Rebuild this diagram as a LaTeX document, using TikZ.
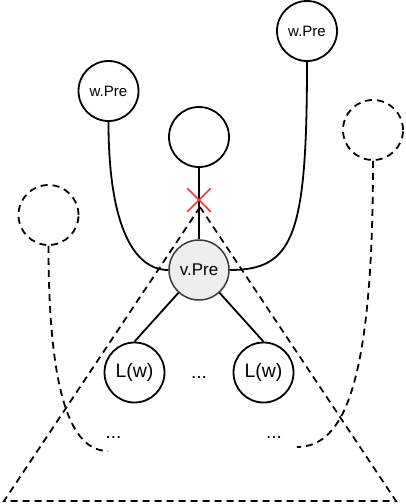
\documentclass[tikz,border=0pt]{standalone}
\usepackage{fontspec}
\setmainfont{Liberation Sans}
\usetikzlibrary{positioning}
\usetikzlibrary{shapes.misc}

\begin{document}
\begin{tikzpicture}[x=1pt,y=-1pt,
  vertex/.style={circle,draw,line width=1.8pt,minimum size=60pt,inner sep=0pt},
  ghost/.style={vertex,dash pattern=on 7pt off 5pt},
  dashline/.style={line width=1.8pt,dash pattern=on 7pt off 5pt},
  edge/.style={line width=1.8pt}]
\definecolor{cutred}{RGB}{255,51,51}
\definecolor{vfill}{RGB}{238,238,238}
\definecolor{vline}{RGB}{54,57,61}
\useasboundingbox (0,0) rectangle (406,504);
% subtree triangle
\coordinate (apex) at (200,207);
\coordinate (bl) at (4,501);
\coordinate (br) at (396,501);
\draw[dashline] (apex) -- (bl) -- (br) -- cycle;
% vertices
\node[vertex,font=\fontsize{15}{18}\selectfont] (wl) at (108.5,91) {w.Pre};
\node[vertex,font=\fontsize{15}{18}\selectfont] (wr) at (307,31) {w.Pre};
\node[vertex] (top) at (199,137) {};
\node[vertex,line width=1.5pt,fill=vfill,draw=vline,font=\fontsize{17}{20}\selectfont] (v) at (199,270) {v.Pre};
\node[vertex,font=\fontsize{19.5}{22}\selectfont] (l1) at (134.5,372.5) {L(w)};
\node[vertex,font=\fontsize{19.5}{22}\selectfont] (l2) at (263.5,372.5) {L(w)};
\node[ghost] (gl) at (48.5,215) {};
\node[ghost] (gr) at (373,130) {};
% dots
\node[anchor=base,font=\fontsize{19}{22}\selectfont] (dm) at (199,378) {...};
\node[anchor=base,font=\fontsize{19}{22}\selectfont] (dl) at (113.5,438) {...};
\node[anchor=base,font=\fontsize{19}{22}\selectfont] (dr) at (274,438) {...};
\coordinate (el) at (108,451);
\coordinate (er) at (297,447);
% edges
\draw[edge] (top) -- (v);
\draw[edge] (v) -- (l1.north);
\draw[edge] (v) -- (l2.north);
\draw[edge] (wl.south) .. controls +(0,109) and +(-32,0) .. (v.west);
\draw[edge] (wr.south) .. controls +(0,174) and +(64,0) .. (v.east);
\draw[dashline] (gl.south) .. controls +(0,145) and +(-38,0) .. (el);
\draw[dashline] (gr.south) .. controls +(0,220) and +(48,0) .. (er);
% cut
\node[cross out,draw=cutred,line width=1.5pt,minimum size=22pt,inner sep=0pt] (cut) at (199,200) {};
\end{tikzpicture}
\end{document}
